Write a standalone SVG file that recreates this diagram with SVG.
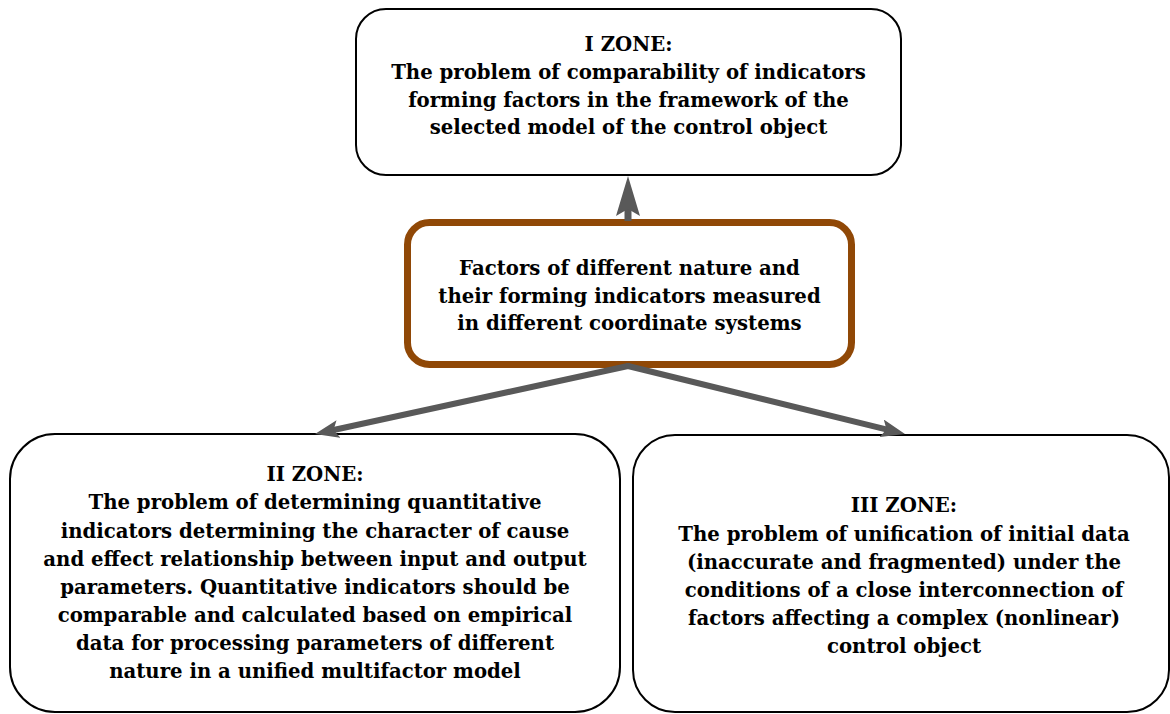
<svg xmlns="http://www.w3.org/2000/svg" width="1170" height="714" viewBox="0 0 1170 714">
<style>
.box{fill:#fff;stroke:#000;stroke-width:2}
.core{fill:#fff;stroke:#904806;stroke-width:7}
.t{font-family:"DejaVu Serif","Liberation Serif",serif;font-weight:bold;font-size:19.7px;text-anchor:middle;fill:#000}
.conn{fill:none;stroke:#595959}
</style>
<defs>
<marker id="headBig" viewBox="0 0 40 24" markerWidth="40" markerHeight="24" refX="20" refY="12" orient="auto" markerUnits="userSpaceOnUse">
<path d="M40,12 L0,0 L7,12 L0,24 Z" fill="#595959"/>
</marker>
<marker id="headSmall" viewBox="0 0 24 18" markerWidth="24" markerHeight="18" refX="12" refY="9" orient="auto" markerUnits="userSpaceOnUse">
<path d="M24,9 L0,0 L5,9 L0,18 Z" fill="#595959"/>
</marker>
</defs>
<rect width="1170" height="714" fill="#fff"/>
<g id="zone1">
<rect class="box" x="356" y="9" width="545" height="166" rx="30"/>
<text class="t" x="628.5" y="51">I ZONE:</text>
<text class="t" x="628.5" y="79">The problem of comparability of indicators</text>
<text class="t" x="628.5" y="106.5">forming factors in the framework of the</text>
<text class="t" x="628.5" y="134">selected model of the control object</text>
</g>
<g id="factors">
<rect class="core" x="407.5" y="222.5" width="444" height="142" rx="22"/>
<text class="t" x="629.5" y="275">Factors of different nature and</text>
<text class="t" x="629.5" y="303">their forming indicators measured</text>
<text class="t" x="629.5" y="330">in different coordinate systems</text>
</g>
<g id="zone2">
<rect class="box" x="10" y="434" width="610" height="278" rx="45"/>
<text class="t" x="315" y="481">II ZONE:</text>
<text class="t" x="315" y="509">The problem of determining quantitative</text>
<text class="t" x="315" y="537.5">indicators determining the character of cause</text>
<text class="t" x="315" y="566">and effect relationship between input and output</text>
<text class="t" x="315" y="594">parameters. Quantitative indicators should be</text>
<text class="t" x="315" y="622">comparable and calculated based on empirical</text>
<text class="t" x="315" y="650">data for processing parameters of different</text>
<text class="t" x="315" y="678">nature in a unified multifactor model</text>
</g>
<g id="zone3">
<rect class="box" x="633" y="435" width="536" height="277" rx="42"/>
<text class="t" x="904" y="512">III ZONE:</text>
<text class="t" x="904" y="541">The problem of unification of initial data</text>
<text class="t" x="904" y="569">(inaccurate and fragmented) under the</text>
<text class="t" x="904" y="597">conditions of a close interconnection of</text>
<text class="t" x="904" y="625">factors affecting a complex (nonlinear)</text>
<text class="t" x="904" y="653">control object</text>
</g>
<g id="connectors">
<path class="conn" stroke-width="7" d="M628,221 L628,196" marker-end="url(#headBig)"/>
<path class="conn" stroke-width="6" stroke-linecap="round" d="M628,366 L326.7,431.5" marker-end="url(#headSmall)"/>
<path class="conn" stroke-width="6" stroke-linecap="round" d="M628,366 L893.3,431.1" marker-end="url(#headSmall)"/>
</g>
</svg>
